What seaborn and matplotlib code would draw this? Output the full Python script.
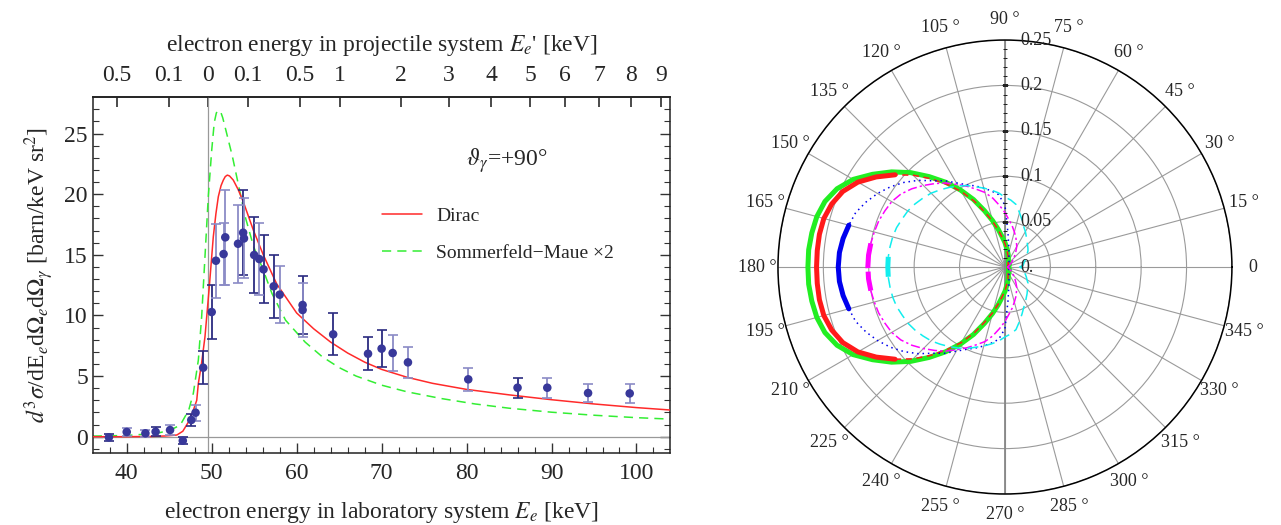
import numpy as np
import pandas as pd
import seaborn as sns
import matplotlib.pyplot as plt
from matplotlib.transforms import offset_copy

# ---- left panel: measured cross section (lab energy, value, error, bar shade)
E_meas = [37.9, 40.0, 42.2, 43.4, 45.1, 46.6, 47.6, 48.1, 49.0,
          50.0, 50.5, 51.4, 51.6, 53.1, 53.7, 53.8, 55.0, 55.6, 56.1,
          57.3, 58.0, 60.7, 60.7, 64.3, 68.4, 70.0, 71.3, 73.1, 80.2,
          86.0, 89.5, 94.3, 99.2]
sig_meas = [-0.05, 0.39, 0.28, 0.41, 0.55, -0.33, 1.38, 1.98, 5.69,
            10.28, 14.51, 15.06, 16.44, 15.91, 16.82, 16.35, 14.98, 14.65, 13.8,
            12.4, 11.71, 10.86, 10.45, 8.44, 6.84, 7.26, 6.9, 6.13, 4.73,
            4.04, 4.04, 3.6, 3.57]
err_meas = [0.3, 0.3, 0.3, 0.35, 0.4, 0.3, 0.52, 0.65, 1.35,
            2.24, 3.05, 2.56, 3.9, 3.2, 3.5, 3.3, 3.1, 3.0, 2.8,
            2.6, 2.35, 2.4, 2.2, 1.73, 1.37, 1.5, 1.48, 1.28, 0.95,
            0.84, 0.84, 0.77, 0.77]
shade_meas = ["dark", "light", "light", "dark", "light", "dark", "dark", "light", "dark",
              "dark", "light", "light", "light", "light", "dark", "light", "dark", "light", "dark",
              "dark", "light", "dark", "light", "dark", "dark", "dark", "light", "light", "light",
              "dark", "light", "light", "light"]

# theory curves
E_dirac = [36, 40, 43, 44.5, 45.9, 46.6, 47.25, 47.8, 48.24, 48.43, 48.8, 49.21, 49.72,
           50.19, 50.5, 50.78, 51.1, 51.37, 51.6, 51.84, 52.1, 52.54, 53.1, 53.72, 54.9,
           56.07, 57.65, 60.0, 62.0, 64.0, 66.0, 68.0, 70.0, 73.0, 76.0, 80.0, 85.0,
           90.0, 95.0, 100.0, 104.0]
sig_dirac = [0.0, 0.0, 0.02, 0.06, 0.14, 0.45, 1.2, 2.1, 3.0, 4.4, 6.0, 8.24, 12.37,
             16.49, 18.4, 19.79, 20.7, 21.16, 21.45, 21.57, 21.5, 21.16, 20.4, 19.37, 17.04,
             15.0, 12.6, 10.2, 8.9, 7.8, 6.9, 6.15, 5.55, 4.9, 4.4, 3.9, 3.45,
             3.05, 2.7, 2.4, 2.2]
E_sm = [36, 40, 42, 44, 45.3, 46.3, 47.3, 47.84, 48.43, 48.82, 49.21, 49.6, 50.0,
        50.3, 50.55, 50.8, 51.05, 51.3, 51.66, 52.44, 53.2, 53.96, 54.94, 55.92, 57.1,
        58.7, 61.0, 63.0, 65.0, 67.0, 70.0, 73.0, 77.0, 81.0, 85.0, 90.0, 95.0,
        100.0, 104.0]
sig_sm = [0.05, 0.1, 0.2, 0.35, 0.6, 0.96, 2.2, 3.58, 6.32, 9.9, 14.84, 19.79, 23.6,
          25.9, 26.7, 26.9, 26.8, 26.3, 25.3, 23.1, 20.6, 18.1, 15.66, 14.0, 11.8,
          9.6, 7.8, 6.6, 5.7, 5.0, 4.25, 3.7, 3.15, 2.7, 2.35, 2.02, 1.77,
          1.57, 1.45]

# top axis: projectile-frame energy labels and where they sit on the lab scale
top_tick_pos = [38.8, 44.95, 49.55, 54.3, 60.4, 65.05, 72.24, 77.93, 82.9,
                87.51, 91.58, 95.64, 99.39, 102.87]
top_tick_labels = ["0.5", "0.1", "0", "0.1", "0.5", "1", "2", "3", "4",
                   "5", "6", "7", "8", "9"]

# ---- right panel: angular distributions, upper half (mirrored below)
theta_deg = [0, 5, 10, 15, 20, 25, 30, 35, 40, 45, 50, 55, 60, 65, 70, 75, 80, 85,
             90, 95, 100, 105, 110, 115, 120, 125, 130, 135, 140, 145, 150, 155,
             160, 165, 170, 175, 180]
r_green = [0.004, 0.004, 0.004, 0.004, 0.005, 0.005, 0.005, 0.005, 0.006, 0.006,
           0.007, 0.007, 0.008, 0.009, 0.011, 0.014, 0.017, 0.021, 0.027, 0.033,
           0.042, 0.053, 0.066, 0.082, 0.098, 0.114, 0.130, 0.147, 0.163, 0.178,
           0.193, 0.204, 0.211, 0.2145, 0.216, 0.217, 0.217]
r_red = [0.003, 0.003, 0.003, 0.003, 0.004, 0.004, 0.004, 0.004, 0.005, 0.005,
         0.006, 0.006, 0.007, 0.008, 0.010, 0.013, 0.016, 0.020, 0.026, 0.032,
         0.041, 0.052, 0.064, 0.080, 0.096, 0.111, 0.127, 0.143, 0.158, 0.173,
         0.187, 0.197, 0.203, 0.2065, 0.2075, 0.2075, 0.2075]
r_blue = [0.004, 0.004, 0.004, 0.004, 0.004, 0.004, 0.005, 0.005, 0.006, 0.006,
          0.007, 0.008, 0.009, 0.011, 0.013, 0.017, 0.024, 0.038, 0.068, 0.080,
          0.085, 0.090, 0.095, 0.100, 0.107, 0.116, 0.124, 0.135, 0.145, 0.154,
          0.162, 0.169, 0.175, 0.178, 0.181, 0.183, 0.1836]
r_magenta = [0.003, 0.003, 0.004, 0.004, 0.005, 0.006, 0.007, 0.009, 0.011, 0.014,
             0.017, 0.021, 0.026, 0.030, 0.035, 0.040, 0.046, 0.052, 0.060, 0.068,
             0.077, 0.085, 0.091, 0.098, 0.105, 0.113, 0.120, 0.127, 0.134, 0.140,
             0.144, 0.146, 0.148, 0.149, 0.150, 0.1508, 0.151]
r_cyan = [0.016, 0.020, 0.021, 0.022, 0.024, 0.026, 0.028, 0.031, 0.033, 0.035,
          0.038, 0.041, 0.045, 0.049, 0.055, 0.062, 0.070, 0.074, 0.077, 0.082,
          0.086, 0.090, 0.094, 0.099, 0.103, 0.107, 0.111, 0.115, 0.118, 0.121,
          0.1235, 0.125, 0.127, 0.128, 0.1285, 0.129, 0.129]
# angle from which each curve is drawn thick (symmetric about 180 deg)
thick_from = {"red": 140, "blue": 165, "magenta": 170, "cyan": 175}

sns.set_theme(style="ticks")
plt.rcParams["font.family"] = ["Liberation Serif", "DejaVu Serif"]
plt.rcParams["mathtext.fontset"] = "stix"

fig = plt.figure(figsize=(12.81, 5.25), dpi=100)
ax = fig.add_axes([0.0724, 0.137, 0.451, 0.678])

ax.axhline(0, color="#999999", lw=0.9, zorder=1)
ax.axvline(49.6, color="#999999", lw=0.9, zorder=1)

sns.lineplot(x=E_sm, y=sig_sm, ax=ax, color="#33ee33", lw=1.1, sort=False,
             dashes=False, label="Sommerfeld\u2212Maue \u00d72", zorder=2)
ax.lines[-1].set_dashes((6, 4))
sns.lineplot(x=E_dirac, y=sig_dirac, ax=ax, color="#ff2a2a", lw=1.1, sort=False,
             label="Dirac", zorder=3)

df = pd.DataFrame({"E": E_meas, "sig": sig_meas, "err": err_meas, "shade": shade_meas})
bar_col = {"dark": "#2b2b80", "light": "#8b8bc6"}
for shade, grp in df.groupby("shade"):
    ax.errorbar(grp["E"], grp["sig"], yerr=grp["err"], fmt="none",
                ecolor=bar_col[shade], elinewidth=1.3, capsize=3.5, capthick=1.2, zorder=4)
sns.scatterplot(data=df, x="E", y="sig", ax=ax, color="#38389a", s=38,
                edgecolor="none", zorder=5, legend=False)

ax.set_xlim(36, 104)
ax.set_ylim(-1.35, 28)
ax.set_xticks(range(40, 101, 10))
ax.set_xticks(range(38, 104, 2), minor=True)
ax.set_yticks(range(0, 26, 5))
ax.set_yticks(range(-1, 28, 1), minor=True)
ax.tick_params(which="both", direction="in", top=False, right=True, labelsize=17,
               color="#333333")
ax.tick_params(which="major", length=7, width=1)
ax.tick_params(which="minor", length=4, width=0.8)
ax.tick_params(axis="x", pad=7)
for sp in ax.spines.values():
    sp.set_color("#222222")
    sp.set_linewidth(1.1)

sec = ax.secondary_xaxis("top")
sec.set_xticks(top_tick_pos, labels=top_tick_labels)
sec.tick_params(direction="in", length=7, labelsize=17, pad=8, color="#333333")
sec.set_xlabel(r"electron energy in projectile system $E_e$' [keV]", fontsize=17, labelpad=10)

ax.set_xlabel(r"electron energy in laboratory system $E_e$ [keV]", fontsize=17, labelpad=12)
ax.set_ylabel(r"$d^3\sigma$/dE$_e$d$\Omega_e$d$\Omega_\gamma$ [barn/keV sr$^2$]",
              fontsize=17, labelpad=6)

ax.text(0.716, 0.823, r"$\vartheta_\gamma$=+90°", transform=ax.transAxes,
        ha="center", va="center", fontsize=17)

handles, labels = ax.get_legend_handles_labels()
ax.legend(handles[::-1], labels[::-1], loc="upper left", bbox_to_anchor=(0.50, 0.69),
          frameon=False, fontsize=14, handlelength=2.1, handletextpad=0.7,
          labelspacing=1.0, borderpad=0, borderaxespad=0)

# ---- polar panel
pax = fig.add_axes([0.6073, 0.059, 0.3544, 0.8648], projection="polar")
th_up = np.deg2rad(theta_deg)
th_full = np.concatenate([th_up, 2 * np.pi - th_up[::-1][1:]])


def full_curve(r_up):
    r_up = np.asarray(r_up)
    return np.concatenate([r_up, r_up[::-1][1:]])


deg_full = np.rad2deg(th_full)

# green: full thick curve
sns.lineplot(x=th_full, y=full_curve(r_green), ax=pax, sort=False, color="#22ee22",
             lw=3.6, zorder=3)

styles = {
    "red": ("#ff1a1a", (0, (4, 3)), "-"),
    "blue": ("#0000ee", (0, (1, 2.5)), "-"),
    "magenta": ("#ff00ff", (0, (6, 2, 1.5, 2)), (0, (5, 0.7))),
    "cyan": ("#11eeee", (0, (7, 4)), (0, (4, 0.8))),
}
curves = {"red": r_red, "blue": r_blue, "magenta": r_magenta, "cyan": r_cyan}
for name, r_up in curves.items():
    col, thin_ls, thick_ls = styles[name]
    rr = full_curve(r_up)
    lo = thick_from[name]
    thick = (deg_full >= lo) & (deg_full <= 360 - lo)
    upper = deg_full <= lo
    lower = deg_full >= 360 - lo
    pax.plot(th_full[upper], rr[upper], color=col, lw=1.1, ls=thin_ls, zorder=4)
    pax.plot(th_full[lower], rr[lower], color=col, lw=1.1, ls=thin_ls, zorder=4)
    pax.plot(th_full[thick], rr[thick], color=col, lw=3.6, ls=thick_ls, zorder=5)

pax.set_ylim(0, 0.25)
pax.set_yticks([0.05, 0.1, 0.15, 0.2, 0.25])
pax.set_yticklabels([])
pax.tick_params(axis="y", length=0)
ang_ticks = list(range(0, 360, 15))
pax.set_xticks(np.deg2rad(ang_ticks),
               labels=["0"] + [f"{a} °" for a in ang_ticks[1:]])
pax.set_xticks(np.deg2rad(range(0, 360, 5)), minor=True)
pax.tick_params(axis="x", which="both", direction="in", labelsize=13, pad=8, color="black")
pax.tick_params(axis="x", which="major", length=6)
pax.tick_params(axis="x", which="minor", length=4)
pax.grid(True, color="#9a9a9a", lw=0.8)
pax.spines["polar"].set_color("black")
pax.spines["polar"].set_linewidth(1.1)
pax.axvline(np.pi / 2, color="#888888", lw=1.3, zorder=2)
pax.axvline(3 * np.pi / 2, color="#888888", lw=1.3, zorder=2)

r_minor = np.round(np.arange(0.01, 0.25, 0.01), 2)
pax.plot(np.full(len(r_minor), np.pi / 2), r_minor, ls="none", marker="_", ms=2.5,
         mew=0.7, color="#222222", zorder=6)
r_major = [0.05, 0.1, 0.15, 0.2]
pax.plot(np.full(len(r_major), np.pi / 2), r_major, ls="none", marker="_", ms=4.5,
         mew=0.8, color="#222222", zorder=6)

lab_tr = offset_copy(pax.transData, fig=fig, x=15, y=0, units="dots")
for r_lab, txt in zip([0, 0.05, 0.1, 0.15, 0.2, 0.25],
                      ["0.", "0.05", "0.1", "0.15", "0.2", "0.25"]):
    pax.text(np.pi / 2, r_lab, txt, transform=lab_tr, ha="left", va="center",
             fontsize=13, zorder=7)

fig.savefig("out.png", dpi=100)
